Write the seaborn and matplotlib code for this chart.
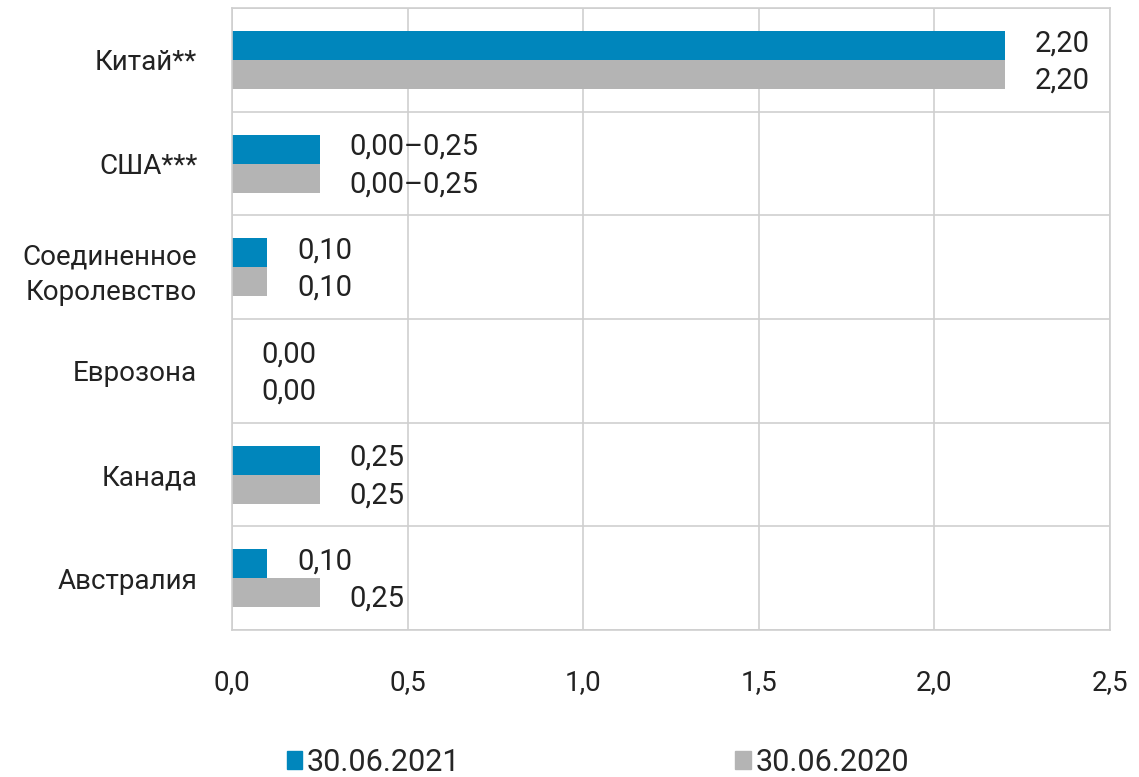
import pandas as pd
import seaborn as sns
import matplotlib.pyplot as plt
from matplotlib.patches import Patch

countries = ["Китай**", "США***", "Соединенное\nКоролевство", "Еврозона", "Канада", "Австралия"]
rate_2021 = [2.20, 0.25, 0.10, 0.00, 0.25, 0.10]
rate_2020 = [2.20, 0.25, 0.10, 0.00, 0.25, 0.25]
labels_2021 = ["2,20", "0,00–0,25", "0,10", "0,00", "0,25", "0,10"]
labels_2020 = ["2,20", "0,00–0,25", "0,10", "0,00", "0,25", "0,25"]
dates = ["30.06.2021", "30.06.2020"]
xticks = [0.0, 0.5, 1.0, 1.5, 2.0, 2.5]

df = pd.DataFrame({
    "country": countries * 2,
    "value": rate_2021 + rate_2020,
    "date": [dates[0]] * len(countries) + [dates[1]] * len(countries),
})

colors = {dates[0]: "#0086BC", dates[1]: "#B4B4B4"}

sns.set_theme(style="white")
plt.rcParams['font.family'] = ['Roboto', 'DejaVu Sans']

fig = plt.figure(figsize=(11.39, 7.77), dpi=100)
ax = fig.add_axes([0.2037, 0.189, 0.7708, 0.8007])
sns.barplot(data=df, x="value", y="country", hue="date", palette=colors,
            orient="h", width=0.56, saturation=1, linewidth=0, ax=ax, legend=False)

ax.set_xlim(0, 2.5)
ax.set_ylim(5.5, -0.5)
ax.set_xticks(xticks)
ax.set_xticklabels([f"{t:.1f}".replace(".", ",") for t in xticks])
ax.set_yticks(range(len(countries)))
ax.set_yticklabels(countries, linespacing=1.4)
ax.set_yticks([i + 0.5 for i in range(-1, len(countries))], minor=True)
ax.tick_params(axis="x", length=0, pad=28, labelsize=20, colors="#222222")
ax.tick_params(axis="y", which="both", length=0, pad=25, labelsize=20, colors="#222222")
ax.grid(axis="x", which="major", color="#cfcfcf", linewidth=1.2)
ax.grid(axis="y", which="minor", color="#cfcfcf", linewidth=1.2)
ax.grid(axis="y", which="major", visible=False)
ax.set_axisbelow(True)
ax.set_xlabel("")
ax.set_ylabel("")
for s in ax.spines.values():
    s.set_color("#cfcfcf")
    s.set_linewidth(1.2)

for cont, labs, dy in zip(ax.containers, [labels_2021, labels_2020], [-0.02, 0.06]):
    for bar, lab in zip(cont, labs):
        y = bar.get_y() + bar.get_height() / 2 + dy
        ax.text(bar.get_width() + 0.085, y, lab, va="center", ha="left",
                fontsize=21, color="#222222")

handles = [Patch(color=colors[d], label=d) for d in dates]
fig.legend(handles=handles, loc="lower center", bbox_to_anchor=(0.525, -0.035), ncol=2,
           frameon=False, fontsize=22, handlelength=0.5, handleheight=0.5,
           handletextpad=0.15, columnspacing=9.0)

fig.savefig("out.png", dpi=100)
